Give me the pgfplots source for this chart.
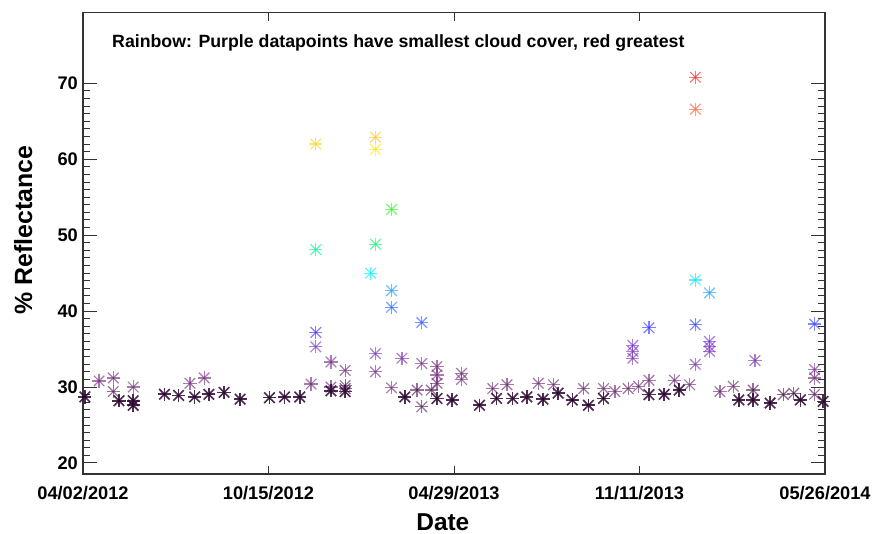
\documentclass[border=0pt]{standalone}
\usepackage{pgfplots}
\pgfplotsset{compat=1.18}
\usepackage{pgfplotstable}
\usepackage{fontspec}
\setmainfont{Liberation Sans}

\pgfdeclareplotmark{ast8}{%
  \pgfpathmoveto{\pgfqpoint{0pt}{\pgfplotmarksize}}%
  \pgfpathlineto{\pgfqpoint{0pt}{-\pgfplotmarksize}}%
  \pgfusepathqstroke
  \pgfpathmoveto{\pgfqpoint{\pgfplotmarksize}{0pt}}%
  \pgfpathlineto{\pgfqpoint{-\pgfplotmarksize}{0pt}}%
  \pgfusepathqstroke
  \pgfpathmoveto{\pgfqpoint{0.8\pgfplotmarksize}{0.8\pgfplotmarksize}}%
  \pgfpathlineto{\pgfqpoint{-0.8\pgfplotmarksize}{-0.8\pgfplotmarksize}}%
  \pgfusepathqstroke
  \pgfpathmoveto{\pgfqpoint{0.8\pgfplotmarksize}{-0.8\pgfplotmarksize}}%
  \pgfpathlineto{\pgfqpoint{-0.8\pgfplotmarksize}{0.8\pgfplotmarksize}}%
  \pgfusepathqstroke
}

% day since 04/02/2012, % reflectance, cloud-cover colour index (0 purple ... 100 red)
% low cloud cover (dark points)
\pgfplotstableread{
x y c
2 28.7 3
38 28.2 2
53 28.2 3
53 27.6 3
86 29.05 3
101 28.9 3
118 28.7 3
133 29.05 3
149 29.3 3
166 28.4 2
197 28.6 2
213 28.7 3
229 28.7 3
262 29.5 4
277 29.4 4
340 28.7 3
374 28.5 4
390 28.3 3
419 27.6 3
437 28.5 3
454 28.5 3
469 28.7 3
486 28.4 3
502 29.2 3
517 28.3 2
534 27.6 2
550 28.5 3
598 29.0 4
614 29.05 3
630 29.6 3
693 28.3 3
708 28.3 3
726 27.9 3
758 28.3 3
782 28.1 4
}\darktable

% higher cloud cover
\pgfplotstableread{
x y c
17 30.8 10
32 31.2 10
32 29.4 6
53 30.0 10
113 30.5 10
128 31.2 10
241 30.4 10
262 30.0 7
277 29.8 5
277 30.2 7
277 32.2 10
262 33.3 12
246 35.3 17
246 37.2 24
246 48.1 56
246 62.0 84
304 45.0 47
309 34.4 16
309 32.0 12
309 62.9 86
309 61.3 81
309 48.8 60
326 53.4 68
326 42.7 38
326 40.5 32
326 29.9 10
337 33.8 14
353 29.6 6
358 38.5 30
358 33.1 12
358 27.4 6
368 29.6 6
374 32.7 10
374 31.6 10
374 30.5 8
400 31.8 10
400 31.0 10
433 29.8 8
448 30.3 9
481 30.5 9
497 30.3 9
529 29.8 8
550 29.8 8
562 29.4 9
576 29.8 8
581 35.5 18
581 34.7 16
581 33.8 15
587 30.1 8
598 37.8 26
598 30.9 10
625 30.9 10
641 30.3 9
647 70.8 100
647 66.6 94
647 44.1 46
647 38.2 28
647 33.0 14
662 42.4 38
662 36.0 18
662 35.3 17
662 34.7 16
673 29.4 9
687 30.1 9
708 29.6 6
710 33.5 15
740 29.0 5
751 29.2 5
773 38.3 28
773 32.3 12
773 31.2 10
773 29.05 6
}\datatable

\begin{document}
\begin{tikzpicture}
\useasboundingbox (-83bp,-60bp) rectangle (793bp,474bp);
\begin{axis}[
  scale only axis, width=742bp, height=461.3bp,
  xmin=0, xmax=784, ymin=18.55, ymax=79.3,
  xtick={0,196,392,588,784},
  xticklabels={04/02/2012,10/15/2012,04/29/2013,11/11/2013,05/26/2014},
  ytick={20,30,40,50,60,70},
  minor y tick num=9,
  tick align=inside, tick pos=both, ticklabel pos=left,
  major tick length=14bp, minor tick length=7bp,
  xtick style={/pgfplots/major tick length=8bp},
  axis line style={black!80, line width=1.2bp},
  every tick/.style={black!80, line width=1bp},
  /pgf/number format/assume math mode=true,
  xticklabel style={font=\fontsize{18.3}{18}\selectfont\bfseries, inner sep=0pt, anchor=north, yshift=-12bp},
  yticklabel style={font=\fontsize{18.3}{18}\selectfont\bfseries, inner sep=0pt, anchor=east, xshift=-5bp},
  xlabel={Date},
  xlabel style={font=\fontsize{24.5}{25}\selectfont\bfseries, at={(axis description cs:0.485,-0.1215)}, anchor=base, inner sep=0pt},
  ylabel={\% Reflectance},
  ylabel style={font=\fontsize{25}{25}\selectfont\bfseries, at={(axis description cs:-0.0687,0.529)}, anchor=base, inner sep=0pt},
  colormap={idlrb}{
    rgb255(0pt)=(30,0,35);
    rgb255(4pt)=(50,10,55);
    rgb255(6pt)=(90,35,95);
    rgb255(11pt)=(125,55,135);
    rgb255(17pt)=(125,60,200);
    rgb255(25pt)=(70,50,255);
    rgb255(30pt)=(50,90,255);
    rgb255(38pt)=(30,160,255);
    rgb255(47pt)=(0,240,255);
    rgb255(56pt)=(0,250,150);
    rgb255(68pt)=(40,250,40);
    rgb255(80pt)=(255,240,0);
    rgb255(86pt)=(255,200,40);
    rgb255(94pt)=(255,100,60);
    rgb255(100pt)=(255,40,40)
  },
  point meta min=0, point meta max=100,
]
\addplot[scatter, only marks, mark=ast8, mark size=6.6bp,
  scatter/use mapped color={draw=mapped color},
  mark options={line width=1.2bp, draw opacity=0.65},
  point meta=explicit] table[x=x, y=y, meta=c] {\datatable};
\addplot[scatter, only marks, mark=ast8, mark size=6.6bp,
  scatter/use mapped color={draw=mapped color},
  mark options={line width=1.6bp, draw opacity=0.85},
  point meta=explicit] table[x=x, y=y, meta=c] {\darktable};
\node[anchor=base west, inner sep=0pt, font=\fontsize{17.8}{18}\selectfont\bfseries]
  at (rel axis cs:0.0391,0.924) {Rainbow: Purple datapoints have smallest cloud cover, red greatest};
\end{axis}
\end{tikzpicture}
\end{document}
